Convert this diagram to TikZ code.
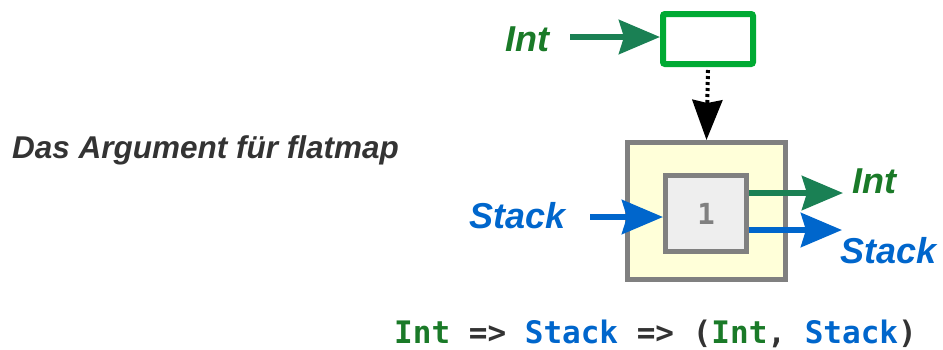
\documentclass[tikz,border=0pt]{standalone}
\usepackage{fontspec}
\setmainfont{Liberation Sans}
\newfontfamily\codefont{DejaVu Sans Mono}
\usetikzlibrary{arrows.meta}

\definecolor{flowgreen}{HTML}{1A8054}
\definecolor{labgreen}{HTML}{1A7A28}
\definecolor{boxgreen}{HTML}{00AA33}
\definecolor{flowblue}{HTML}{0066CC}
\definecolor{frame}{HTML}{808080}
\definecolor{paleyellow}{HTML}{FFFFD9}
\definecolor{palegray}{HTML}{EEEEEE}
\definecolor{ink}{HTML}{333333}

\tikzset{
  lab/.style={font=\fontsize{36}{40}\selectfont\bfseries\itshape, inner sep=0pt},
  flow/.style={line width=6pt, -{Stealth[length=41pt,width=34pt,inset=5pt]}},
  codetext/.style={font=\codefont\fontsize{31}{36}\selectfont\bfseries, inner sep=0pt, text=ink},
}

\begin{document}
\begin{tikzpicture}[x=1pt,y=-1pt]
  \useasboundingbox (0,0) rectangle (943,349);

  % function box and the outer context box
  \node[draw=boxgreen, line width=6pt, rounded corners=2pt, fill=white,
        minimum width=90pt, minimum height=50pt, inner sep=0pt] (fbox) at (708,39) {};
  \node[draw=frame, line width=5pt, fill=paleyellow,
        minimum width=158pt, minimum height=137pt, inner sep=0pt] (outer) at (706.5,211) {};
  \node[draw=frame, line width=5pt, fill=palegray,
        minimum width=81pt, minimum height=76pt, inner sep=0pt,
        font=\codefont\fontsize{29}{30}\selectfont\bfseries, text=frame] (inner) at (706,213.5) {1};

  % labels
  \node[lab, text=labgreen, anchor=base west] (intin) at (505,51) {Int};
  \node[lab, text=flowblue, anchor=base west] (stackin) at (469,228) {Stack};
  \node[lab, text=labgreen, anchor=base west] (intout) at (852,193) {Int};
  \node[lab, text=flowblue, anchor=base west] (stackout) at (840,263) {Stack};
  \node[font=\fontsize{31.5}{34}\selectfont\bfseries\itshape, text=ink, inner sep=0pt,
        anchor=base west] (title) at (12,158) {Das Argument für flatmap};

  % type signature
  \node[codetext, anchor=base west] (sig) at (394,343)
    {\textcolor{labgreen}{Int} => \textcolor{flowblue}{Stack} => (\textcolor{labgreen}{Int}, \textcolor{flowblue}{Stack})};

  % connectors
  \coordinate (intstart) at (570,37);
  \coordinate (stackstart) at (590,217);
  \coordinate (intend) at (843,193);
  \coordinate (stackend) at (842,230);

  \draw[flow, flowgreen] (intstart) -- (intstart -| fbox.west);
  \draw[flow, flowblue] (stackstart) -- (stackstart -| inner.west);
  \draw[flow, flowgreen] (intend -| inner.east) -- (intend);
  \draw[flow, flowblue] (stackend -| inner.east) -- (stackend);

  \draw[line width=4pt, dash pattern=on 3pt off 3pt,
        -{Stealth[length=40pt,width=30pt,inset=3pt]}]
    (fbox.south) ++(0,3) coordinate (dstart) (dstart) -- (outer.north);
\end{tikzpicture}
\end{document}
